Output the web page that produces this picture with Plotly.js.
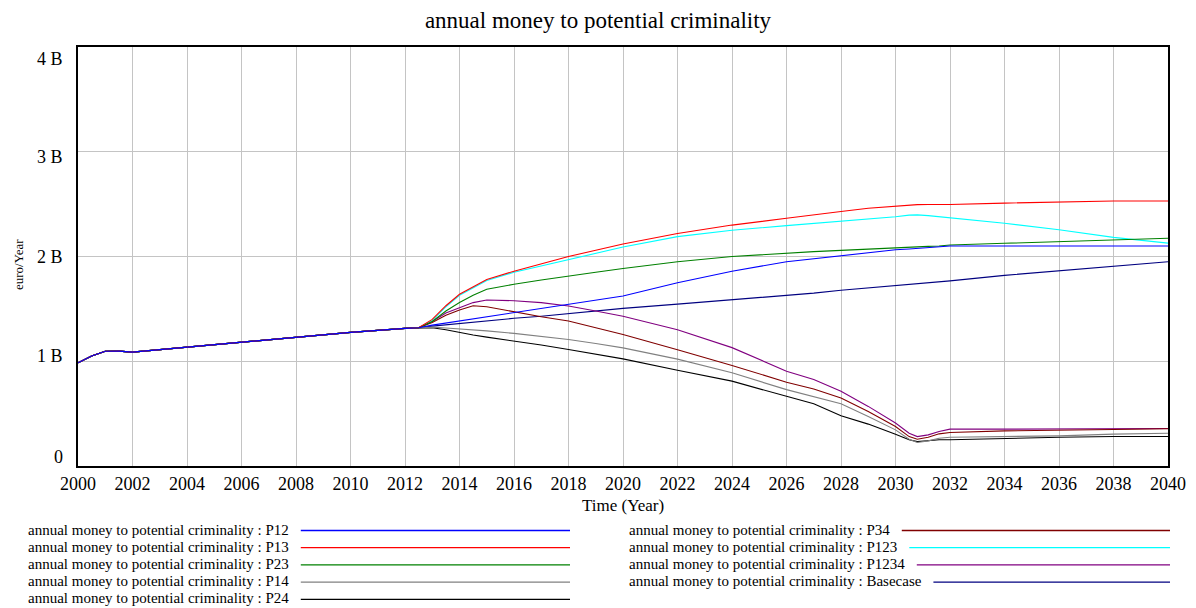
<!DOCTYPE html>
<html>
<head>
<meta charset="utf-8">
<script src="https://cdn.plot.ly/plotly-3.0.1.min.js"></script>
<style>
  html, body { margin: 0; padding: 0; background: #ffffff; }
  #chart { width: 1196px; height: 608px; }
</style>
</head>
<body>
<div id="chart"></div>
<script>
// Simulation time (years); all runs coincide until 2012.5
const yearsEarly = [2000, 2000.5, 2001, 2001.5, 2002, 2004, 2006, 2008, 2010, 2012, 2012.5];
const yearsLate = [2013, 2013.5, 2014, 2014.5, 2015, 2016, 2017, 2018, 2019, 2020,
                   2022, 2024, 2026, 2027, 2028, 2029, 2030, 2030.5, 2030.8, 2031.2,
                   2031.6, 2032, 2034, 2036, 2038, 2040];

// Annual money to potential criminality, billions of euro per year
const sharedRun = [0.985, 1.05, 1.095, 1.097, 1.087, 1.135, 1.18, 1.228, 1.276, 1.314, 1.32];

const p12 = [1.345, 1.365, 1.384, 1.405, 1.425, 1.464, 1.505, 1.544, 1.583, 1.623,
             1.75, 1.86, 1.95, 1.98, 2.007, 2.035, 2.064, 2.072, 2.077, 2.083,
             2.09, 2.10, 2.10, 2.10, 2.10, 2.10];
const p13 = [1.40, 1.53, 1.64, 1.71, 1.78, 1.86, 1.93, 2.00, 2.06, 2.12,
             2.22, 2.30, 2.365, 2.40, 2.43, 2.46, 2.48, 2.49, 2.495, 2.496,
             2.496, 2.497, 2.51, 2.52, 2.53, 2.53];
const p23 = [1.38, 1.48, 1.56, 1.63, 1.687, 1.735, 1.775, 1.815, 1.85, 1.886,
             1.95, 2.0, 2.035, 2.047, 2.058, 2.072, 2.087, 2.09, 2.093, 2.097,
             2.10, 2.11, 2.126, 2.14, 2.157, 2.174];
const p14 = [1.326, 1.318, 1.31, 1.30, 1.29, 1.266, 1.24, 1.208, 1.17, 1.128,
             1.02, 0.89, 0.729, 0.665, 0.594, 0.473, 0.345, 0.256, 0.224, 0.24,
             0.265, 0.275, 0.281, 0.288, 0.304, 0.313];
const p24 = [1.32, 1.30, 1.272, 1.25, 1.23, 1.196, 1.155, 1.112, 1.07, 1.023,
             0.914, 0.81, 0.665, 0.594, 0.479, 0.40, 0.304, 0.25, 0.233, 0.243,
             0.25, 0.25, 0.265, 0.275, 0.281, 0.281];
const p34 = [1.37, 1.44, 1.49, 1.53, 1.52, 1.47, 1.425, 1.384, 1.32, 1.256,
             1.11, 0.96, 0.80, 0.735, 0.649, 0.52, 0.377, 0.281, 0.256, 0.275,
             0.307, 0.32, 0.335, 0.345, 0.348, 0.355];
const p123 = [1.39, 1.52, 1.63, 1.70, 1.77, 1.85, 1.91, 1.975, 2.035, 2.09,
              2.19, 2.25, 2.295, 2.315, 2.336, 2.36, 2.38, 2.395, 2.397, 2.39,
              2.38, 2.365, 2.317, 2.256, 2.183, 2.128];
const p1234 = [1.38, 1.46, 1.51, 1.56, 1.585, 1.578, 1.56, 1.527, 1.48, 1.43,
               1.30, 1.13, 0.905, 0.825, 0.713, 0.569, 0.41, 0.313, 0.281, 0.297,
               0.329, 0.352, 0.352, 0.352, 0.354, 0.358];
const basecase = [1.335, 1.348, 1.361, 1.372, 1.384, 1.41, 1.43, 1.455, 1.48, 1.505,
                  1.545, 1.585, 1.623, 1.65, 1.678, 1.70, 1.72, 1.73, 1.737, 1.745,
                  1.755, 1.767, 1.82, 1.863, 1.905, 1.95];

const runNames = ['P12', 'P13', 'P23', 'P14', 'P24', 'P34', 'P123', 'P1234', 'Basecase'];
const runValues = [p12, p13, p23, p14, p24, p34, p123, p1234, basecase];
const runColors = ['#0000ff', '#ff0000', '#008000', '#808080', '#000000',
                   '#800000', '#00ffff', '#800080', '#000080'];

const yTickVals = [0, 1, 2, 3, 4];
const yTickText = ['0', '1 B', '2 B', '3 B', '4 B'];
const xTickVals = [2000, 2002, 2004, 2006, 2008, 2010, 2012, 2014, 2016, 2018, 2020,
                   2022, 2024, 2026, 2028, 2030, 2032, 2034, 2036, 2038, 2040];

const labelPrefix = 'annual money to potential criminality : ';
const serif = '"Liberation Serif", "Times New Roman", serif';

// plot box in pixels
const W = 1196, H = 608;
const L = 78, R = 1168, T = 47, B = 466;
const px = x => (x - L) / (R - L);
const py = y => (B - y) / (B - T);

const years = yearsEarly.concat(yearsLate);
const traces = [];
for (let i = runNames.length - 1; i >= 0; i--) {
  traces.push({
    type: 'scatter',
    mode: 'lines',
    name: labelPrefix + runNames[i],
    x: years,
    y: sharedRun.concat(runValues[i]),
    line: { color: runColors[i], width: 1.1 },
    hoverinfo: 'skip'
  });
}

const annotations = [];
const shapes = [];

// y tick labels spread evenly between the top and bottom of the axis
const yLabelShift = [9.3, 5.5, 0, -5.5, -12.3];
yTickVals.forEach((v, k) => {
  annotations.push({
    xref: 'paper', yref: 'y', x: 0, y: v, xshift: -13.5, yshift: yLabelShift[k],
    xanchor: 'right', yanchor: 'middle', showarrow: false,
    text: yTickText[k], font: { family: serif, size: 18, color: '#000' }
  });
});

// axis titles
annotations.push({
  xref: 'paper', yref: 'paper', x: px(622.5), y: py(505), xanchor: 'center', yanchor: 'middle',
  showarrow: false, text: 'Time (Year)', font: { family: serif, size: 17, color: '#000' }
});
annotations.push({
  xref: 'paper', yref: 'paper', x: px(18), y: py(265), xanchor: 'center', yanchor: 'middle',
  showarrow: false, textangle: -90, text: 'euro/Year', font: { family: serif, size: 13, color: '#000' }
});

// legend: two columns of label + colour line
const ctx = document.createElement('canvas').getContext('2d');
ctx.font = '15px "Liberation Serif"';
const cols = [
  { textX: 26, lineEnd: 570, rows: [0, 1, 2, 3, 4] },
  { textX: 627, lineEnd: 1170, rows: [5, 6, 7, 8] }
];
cols.forEach(col => {
  col.rows.forEach((idx, r) => {
    const yRow = 529.5 + r * 17.2;
    const label = labelPrefix + runNames[idx];
    annotations.push({
      xref: 'paper', yref: 'paper', x: px(col.textX), y: py(yRow),
      xanchor: 'left', yanchor: 'middle', showarrow: false,
      text: label, font: { family: serif, size: 15, color: '#000' }
    });
    const start = col.textX + ctx.measureText(label).width + 14;
    shapes.push({
      type: 'line', xref: 'paper', yref: 'paper',
      x0: px(start), x1: px(col.lineEnd), y0: py(yRow + 1), y1: py(yRow + 1),
      line: { color: runColors[idx], width: 1.3 }
    });
  });
});

const layout = {
  width: W, height: H,
  margin: { l: L, r: W - R, t: T, b: H - B, pad: 0 },
  paper_bgcolor: '#ffffff',
  plot_bgcolor: '#ffffff',
  showlegend: false,
  title: {
    text: 'annual money to potential criminality',
    font: { family: serif, size: 23, color: '#000' },
    xref: 'container', x: 0.5, xanchor: 'center',
    yref: 'container', y: 1 - 20 / H, yanchor: 'middle'
  },
  xaxis: {
    range: [2000, 2040],
    tickvals: xTickVals,
    ticktext: xTickVals.map(String),
    ticks: '',
    tickfont: { family: serif, size: 18, color: '#000' },
    showgrid: true, gridcolor: '#c4c4c4', gridwidth: 1,
    showline: true, linecolor: '#000', linewidth: 2, mirror: true,
    zeroline: false, fixedrange: true
  },
  yaxis: {
    range: [0, 4],
    tickvals: yTickVals,
    showticklabels: false,
    ticks: '',
    showgrid: true, gridcolor: '#c4c4c4', gridwidth: 1,
    showline: true, linecolor: '#000', linewidth: 2, mirror: true,
    zeroline: false, fixedrange: true
  },
  annotations: annotations,
  shapes: shapes
};

Plotly.newPlot('chart', traces, layout, { displayModeBar: false, staticPlot: true });
</script>
</body>
</html>
